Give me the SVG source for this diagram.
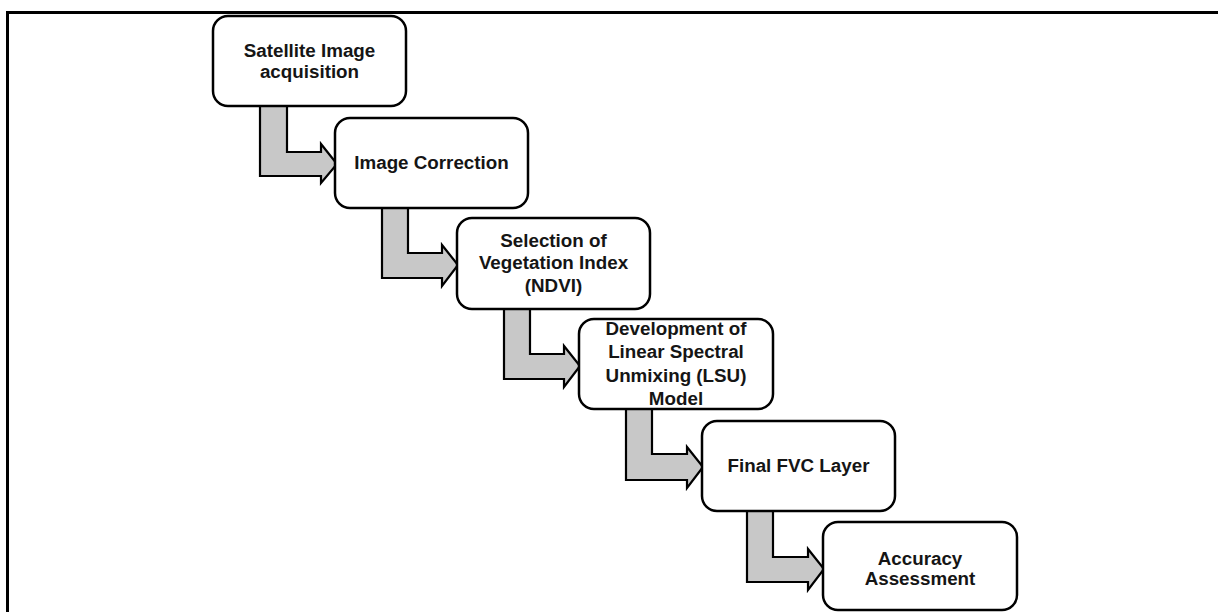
<svg xmlns="http://www.w3.org/2000/svg" width="1218" height="612" viewBox="0 0 1218 612">
<style>
.box{fill:#ffffff;stroke:#000000;stroke-width:2.5}
.arr{fill:#c8c8c8;stroke:#000000;stroke-width:2.2;stroke-linejoin:miter}
.t{font-family:"Liberation Sans",Arial,sans-serif;font-weight:bold;font-size:18.8px;fill:#151515;text-anchor:middle}
.frame{fill:none;stroke:#000000;stroke-width:3}
</style>
<rect x="0" y="0" width="1218" height="612" fill="#ffffff"/>
<path class="frame" d="M7.5,612 V12.5 H1218"/>
<g id="connectors">
<polygon class="arr" points="260,106 287,106 287,152 321,152 321,144 337,164 321,183 321,176 260,176"/>
<polygon class="arr" points="382,208 408,208 408,253 442,253 442,245 458,265 442,286 442,278 382,278"/>
<polygon class="arr" points="504,309 530,309 530,354 564,354 564,346 580,366 564,387 564,379 504,379"/>
<polygon class="arr" points="626,409 652,409 652,454 687,454 687,447 703,467 687,488 687,480 626,480"/>
<polygon class="arr" points="747,511 773,511 773,557 808,557 808,549 824,569 808,590 808,582 747,582"/>
</g>
<g id="n1"><rect class="box" x="213" y="16" width="193" height="90" rx="15"/><text class="t" x="309.5" y="57">Satellite Image</text><text class="t" x="309.5" y="78">acquisition</text></g>
<g id="n2"><rect class="box" x="335" y="118" width="193" height="90" rx="15"/><text class="t" x="431.5" y="169">Image Correction</text></g>
<g id="n3"><rect class="box" x="457" y="218" width="193" height="91" rx="15"/><text class="t" x="553.5" y="247">Selection of</text><text class="t" x="553.5" y="269">Vegetation Index</text><text class="t" x="553.5" y="292">(NDVI)</text></g>
<g id="n4"><rect class="box" x="579" y="319" width="194" height="90" rx="15"/><text class="t" x="676" y="335">Development of</text><text class="t" x="676" y="358">Linear Spectral</text><text class="t" x="676" y="382">Unmixing (LSU)</text><text class="t" x="676" y="405">Model</text></g>
<g id="n5"><rect class="box" x="702" y="421" width="193" height="90" rx="15"/><text class="t" x="798.5" y="472">Final FVC Layer</text></g>
<g id="n6"><rect class="box" x="823" y="522" width="194" height="88" rx="15"/><text class="t" x="920" y="565">Accuracy</text><text class="t" x="920" y="585">Assessment</text></g>
</svg>
